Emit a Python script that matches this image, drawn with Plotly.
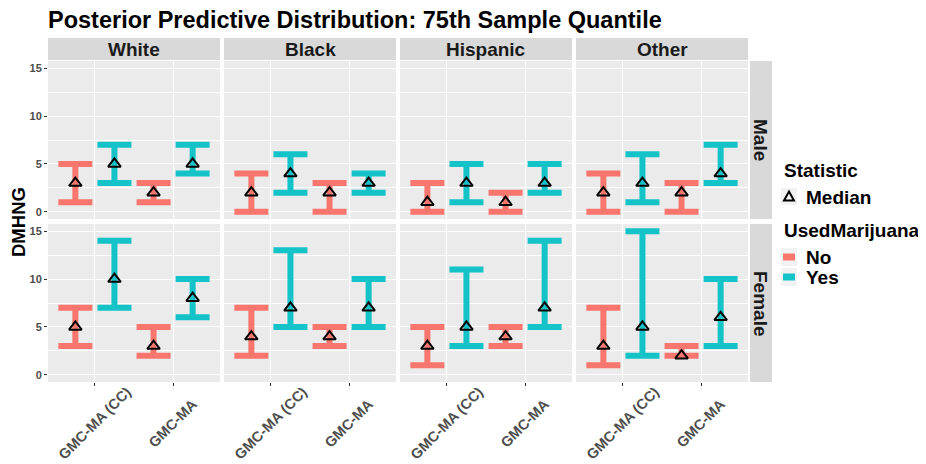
import plotly.graph_objects as go
from plotly.subplots import make_subplots

# ---------------- data ----------------
races = ["White", "Black", "Hispanic", "Other"]
genders = ["Male", "Female"]
methods = ["GMC-MA (CC)", "GMC-MA"]
groups = ["No", "Yes"]
# order of values per facet: [CC-No, CC-Yes, MA-No, MA-Yes]
male_low = {"White": [1, 3, 1, 4], "Black": [0, 2, 0, 2], "Hispanic": [0, 1, 0, 2], "Other": [0, 1, 0, 3]}
male_med = {"White": [3, 5, 2, 5], "Black": [2, 4, 2, 3], "Hispanic": [1, 3, 1, 3], "Other": [2, 3, 2, 4]}
male_high = {"White": [5, 7, 3, 7], "Black": [4, 6, 3, 4], "Hispanic": [3, 5, 2, 5], "Other": [4, 6, 3, 7]}
female_low = {"White": [3, 7, 2, 6], "Black": [2, 5, 3, 5], "Hispanic": [1, 3, 3, 5], "Other": [1, 2, 2, 3]}
female_med = {"White": [5, 10, 3, 8], "Black": [4, 7, 4, 7], "Hispanic": [3, 5, 4, 7], "Other": [3, 5, 2, 6]}
female_high = {"White": [7, 14, 5, 10], "Black": [7, 13, 5, 10], "Hispanic": [5, 11, 5, 14], "Other": [7, 15, 3, 10]}
y_ticks = [0, 5, 10, 15]

# ---------------- style ----------------
PAGE_OFF = 8                      # default body margin of the html page
W, H = 926 - PAGE_OFF, 464 - PAGE_OFF
FONT = "Liberation Sans, Arial, sans-serif"
colors = {"No": "rgba(248,118,109,1)", "Yes": "rgba(0,191,196,0.92)"}
dodge = {"No": -0.25, "Yes": 0.25}
col_px = [(48, 220), (224, 396), (400, 572), (576, 748)]
row_px = [(61, 219), (224, 382)]
strip_top = (38, 60)
strip_right = (750, 772)


def fx(p):
    return (p - PAGE_OFF) / W


def fy(p):
    return 1 - (p - PAGE_OFF) / H


data = {"Male": (male_low, male_med, male_high), "Female": (female_low, female_med, female_high)}

fig = make_subplots(rows=2, cols=4)

for r, g in enumerate(genders):
    lo_d, med_d, hi_d = data[g]
    for c, race in enumerate(races):
        lo, med, hi = lo_d[race], med_d[race], hi_d[race]
        for gi, grp in enumerate(groups):
            idx = [gi, 2 + gi]
            xs = [m + 1 + dodge[grp] for m in range(len(methods))]
            ys = [med[i] for i in idx]
            plus = [hi[i] - med[i] for i in idx]
            minus = [med[i] - lo[i] for i in idx]
            fig.add_trace(
                go.Scatter(
                    x=xs, y=ys, mode="markers",
                    marker=dict(symbol="triangle-up-open", color="black", size=11,
                                line=dict(width=2, color="black")),
                    error_y=dict(type="data", array=plus, arrayminus=minus, symmetric=False,
                                 color=colors[grp], thickness=6, width=17),
                    showlegend=False, hoverinfo="skip",
                ),
                row=r + 1, col=c + 1,
            )

shapes = []
annotations = []
tick_font = dict(family=FONT, size=14.5, color="#4D4D4D", weight="bold")

for r in range(2):
    for c in range(4):
        n = r * 4 + c + 1
        xa = "xaxis" if n == 1 else f"xaxis{n}"
        ya = "yaxis" if n == 1 else f"yaxis{n}"
        x0, x1 = col_px[c]
        y0, y1 = row_px[r]
        fig.layout[xa].update(
            domain=[fx(x0), fx(x1)], range=[0.4, 2.6], automargin=False,
            tickvals=[1, 2], showticklabels=False,
            ticks="outside" if r == 1 else "", ticklen=3, tickcolor="#333333", tickwidth=1,
            showgrid=True, gridcolor="white", gridwidth=1.1, zeroline=False, showline=False,
            fixedrange=True,
        )
        fig.layout[ya].update(
            domain=[fy(y1), fy(y0)], range=[-0.75, 15.75], automargin=False,
            tickvals=y_ticks, showticklabels=(c == 0),
            ticks="outside" if c == 0 else "", ticklen=3, tickcolor="#333333", tickwidth=1,
            showgrid=True, gridcolor="white", gridwidth=1.1, zeroline=False, showline=False,
            minor=dict(dtick=2.5, tick0=0, showgrid=True, gridcolor="white", gridwidth=0.5, ticks=""),
            tickfont=dict(family=FONT, size=11, color="#4D4D4D", weight="bold"),
            fixedrange=True,
        )
        shapes.append(dict(type="rect", xref="paper", yref="paper", layer="below",
                           x0=fx(x0), x1=fx(x1), y0=fy(y1), y1=fy(y0),
                           fillcolor="#EBEBEB", line=dict(width=0)))
        if r == 1:
            xref = "x" if n == 1 else f"x{n}"
            for m, lab in enumerate(methods):
                annotations.append(dict(text=lab, xref=xref, yref="paper", x=m + 1, y=fy(423),
                                        showarrow=False, textangle=-45, xanchor="center",
                                        yanchor="middle", borderpad=0, font=tick_font))

# strips
for c, race in enumerate(races):
    x0, x1 = col_px[c]
    shapes.append(dict(type="rect", xref="paper", yref="paper",
                       x0=fx(x0), x1=fx(x1), y0=fy(strip_top[1]), y1=fy(strip_top[0]),
                       fillcolor="#D9D9D9", line=dict(width=0)))
    annotations.append(dict(text=race, xref="paper", yref="paper", x=fx((x0 + x1) / 2),
                            y=fy((strip_top[0] + strip_top[1]) / 2), showarrow=False,
                            xanchor="center", yanchor="middle",
                            font=dict(family=FONT, size=19, color="#1A1A1A", weight="bold")))
for r, g in enumerate(genders):
    y0, y1 = row_px[r]
    shapes.append(dict(type="rect", xref="paper", yref="paper",
                       x0=fx(strip_right[0]), x1=fx(strip_right[1]), y0=fy(y1), y1=fy(y0),
                       fillcolor="#D9D9D9", line=dict(width=0)))
    annotations.append(dict(text=g, xref="paper", yref="paper", x=fx((strip_right[0] + strip_right[1]) / 2),
                            y=fy((y0 + y1) / 2), showarrow=False, textangle=90,
                            xanchor="center", yanchor="middle",
                            font=dict(family=FONT, size=19, color="#1A1A1A", weight="bold")))

# title and axis title
annotations.append(dict(text="Posterior Predictive Distribution: 75th Sample Quantile",
                        xref="paper", yref="paper", x=fx(46), y=fy(20), showarrow=False,
                        xanchor="left", yanchor="middle",
                        font=dict(family=FONT, size=23.5, color="black", weight="bold")))
annotations.append(dict(text="DMHNG", xref="paper", yref="paper", x=fx(18), y=fy(222),
                        showarrow=False, textangle=-90, xanchor="center", yanchor="middle",
                        font=dict(family=FONT, size=18.5, color="black", weight="bold")))

# legend (drawn manually)
leg_font = dict(family=FONT, size=19, color="black", weight="bold")
annotations.append(dict(text="Statistic", xref="paper", yref="paper", x=fx(782), y=fy(170),
                        showarrow=False, xanchor="left", yanchor="middle", font=leg_font))
shapes.append(dict(type="rect", xref="paper", yref="paper", x0=fx(781), x1=fx(797),
                   y0=fy(205), y1=fy(188), fillcolor="#F2F2F2", line=dict(width=0)))
shapes.append(dict(type="path", xref="paper", yref="paper",
                   path=f"M {fx(784)} {fy(200.5)} L {fx(794)} {fy(200.5)} L {fx(789)} {fy(191.5)} Z",
                   fillcolor="rgba(0,0,0,0)", line=dict(color="black", width=2)))
annotations.append(dict(text="Median", xref="paper", yref="paper", x=fx(804), y=fy(197),
                        showarrow=False, xanchor="left", yanchor="middle", font=leg_font))
annotations.append(dict(text="UsedMarijuana", xref="paper", yref="paper", x=fx(782), y=fy(230),
                        showarrow=False, xanchor="left", yanchor="middle", font=leg_font))
for i, grp in enumerate(groups):
    yc = 257 + 20 * i
    shapes.append(dict(type="rect", xref="paper", yref="paper", x0=fx(781), x1=fx(797),
                       y0=fy(yc + 9), y1=fy(yc - 9), fillcolor="#F2F2F2", line=dict(width=0)))
    shapes.append(dict(type="rect", xref="paper", yref="paper", x0=fx(783), x1=fx(795),
                       y0=fy(yc + 3.5), y1=fy(yc - 3.5), fillcolor=colors[grp], line=dict(width=0)))
    annotations.append(dict(text=grp, xref="paper", yref="paper", x=fx(804), y=fy(yc),
                            showarrow=False, xanchor="left", yanchor="middle", font=leg_font))

fig.update_layout(
    width=W, height=H,
    margin=dict(l=0, r=0, t=0, b=0, autoexpand=False),
    paper_bgcolor="white", plot_bgcolor="rgba(0,0,0,0)",
    shapes=shapes, annotations=annotations, showlegend=False,
    font=dict(family=FONT),
)

fig.write_html("out.html")
